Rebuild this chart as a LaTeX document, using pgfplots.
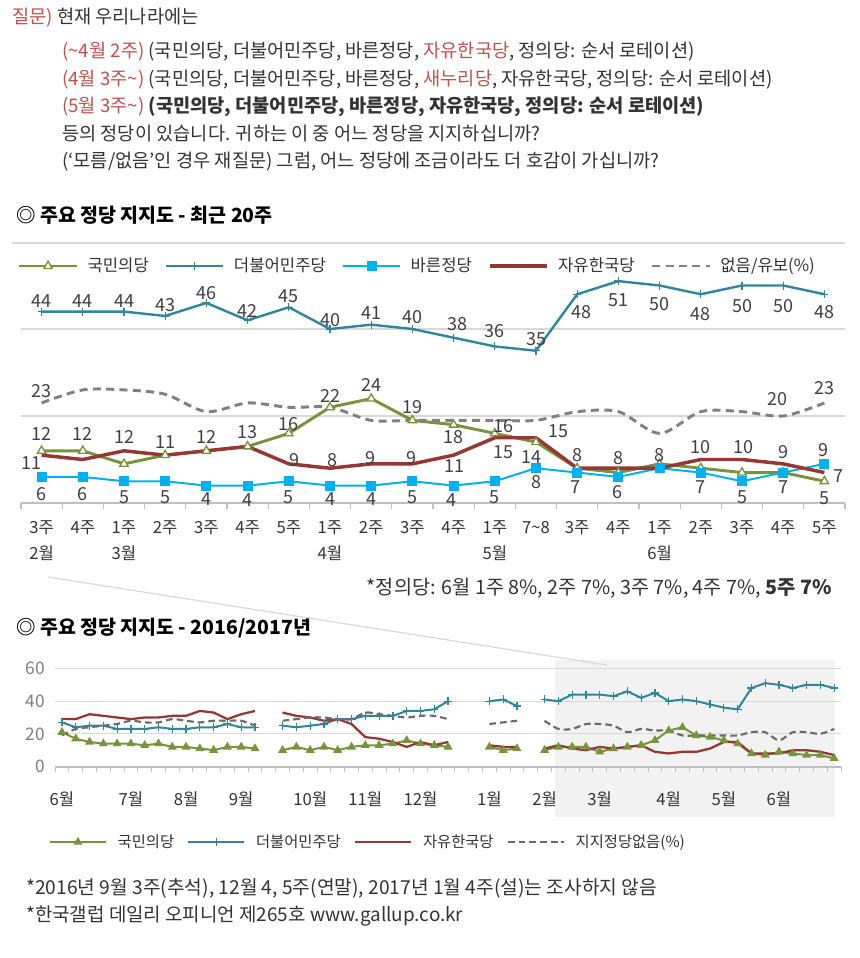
\documentclass[border=0pt]{standalone}
\usepackage{pgfplots}
\usepackage{pgfplotstable}
\pgfplotsset{compat=1.18}
\usepackage{fontspec}
\setmainfont{Noto Sans CJK KR}
\definecolor{cgreen}{HTML}{77933C}
\definecolor{cteal}{HTML}{31859C}
\definecolor{cblue}{HTML}{00B0F0}
\definecolor{cred}{HTML}{953735}
\definecolor{cgray}{HTML}{808080}
\definecolor{cgraydk}{HTML}{6A6A6A}
\definecolor{tred}{HTML}{C0504D}
\definecolor{tdark}{HTML}{333333}
\definecolor{labc}{HTML}{404040}
\definecolor{gridc}{HTML}{D9D9D9}
\definecolor{axisc}{HTML}{BFBFBF}
\definecolor{shadec}{HTML}{F2F2F2}
\definecolor{ticklab}{HTML}{7F7F7F}

\pgfplotstableread{
x green teal blue red gray
0 12 44 6 11 23
1 12 44 6 10 26
2 9 44 5 12 26
3 11 43 5 11 25
4 12 46 4 12 21
5 13 42 4 13 23
6 16 45 5 9 22
7 22 40 4 8 22
8 24 41 4 9 19
9 19 40 5 9 19
10 18 38 4 11 19
11 16 36 5 15 19
12 14 35 8 15 19
13 8 48 7 8 21
14 7 51 6 8 21
15 9 50 8 8 16
16 8 48 7 10 21
17 7 50 5 10 21
18 7 50 7 9 20
19 5 48 9 7 23
}\topdata

\pgfplotstableread{
x y lab
0 46.5 44
1 46.5 44
2 46.5 44
3 45.5 43
4 48.3 46
5 44.2 42
6 47.6 45
7 42.1 40
8 43.6 41
9 42.7 40
10.1 41.1 38
11 39.6 36
12 37.6 35
13.1 43.8 48
14 46.7 51
15 45.7 50
16 43.4 48
17 45.3 50
18 45.3 50
19 43.8 48
0 15.9 12
1 15.9 12
2 15.2 12
3 14.1 11
4 15.2 12
5 16.3 13
6 18.2 16
7 24.6 22
8 27.1 24
9 22.0 19
10 15.2 18
11.2 17.7 16
11.9 10.6 14
13 11.0 8
14 10.3 8
15 11.0 8
-0.24 9.1 11
6.15 9.9 9
7.07 9.9 8
7.99 10.3 9
8.99 10.3 9
10.03 8.6 11
11.2 11.6 15
12.55 16.4 15
16 12.8 10
17.03 12.8 10
18 11.8 9
19.34 6.3 7
0 2.0 6
1 2.0 6
2 1.3 5
3 1.3 5
4 0.9 4
5 0.7 4
6 1.3 5
7 0.9 4
8 0.9 4
9 1.3 5
9.95 0.7 4
11 1.3 5
12 4.9 8
12.95 3.6 7
13.97 2.6 6
16 3.6 7
17 1.4 5
18 3.6 7
18.97 12.2 9
19 1.1 5
0 25.8 23
17.87 23.8 20
19 26.4 23
}\labdata

\pgfplotstableread{
x green teal red gray
0 21 27 29 19
1 17 24 29 23
2 15 25 32 24
3 14 25 31 25
4 14 23 30 26
5 14 23 29 28
6 13 23 30 27
7 14 24 30 27
8 12 23 31 29
9 12 23 31 28
10 11 24 34 27
11 10 24 33 28
12 12 26 29 28
13 12 24 32 28
14 11 24 34 25
15 nan nan nan nan
16 10 25 33 28
17 12 24 31 29
18 10 25 30 30
19 12 26 28 30
20 10 29 29 29
21 12 29 26 29
22 13 31 18 33
23 13 31 17 32
24 14 31 15 31
25 16 34 12 30
26 14 34 15 31
27 13 35 13 31
28 12 40 15 29
29 nan nan nan nan
30 nan nan nan nan
31 12 40 13 26
32 10 41 12 27
33 11 37 12 28
34 nan nan nan nan
35 10 41 11 28
36 12 40 13 23
37 12 44 11 23
38 12 44 10 26
39 9 44 12 26
40 11 43 11 25
41 12 46 12 21
42 13 42 13 23
43 16 45 9 22
44 22 40 8 22
45 24 41 9 19
46 19 40 9 19
47 18 38 11 19
48 16 36 15 19
49 14 35 15 19
50 8 48 8 21
51 7 51 8 21
52 9 50 8 16
53 8 48 10 21
54 7 50 10 21
55 7 50 9 20
56 5 48 7 23
}\botdata

\begin{document}
\begin{tikzpicture}
\useasboundingbox (0pt,0pt) rectangle (645pt,-718.5pt);
\fill[white] (0pt,0pt) rectangle (645pt,-718.5pt);
\begin{scope}[x=0.75pt,y=-0.75pt]
\tikzset{txt/.style={anchor=west, inner sep=0pt, text=tdark, font=\fontsize{14}{16}\selectfont}}
\node[txt] at (12,18) {{\color{tred}질문)} 현재 우리나라에는};
\node[txt] at (62,52) {{\color{tred}(\textasciitilde4월 2주)} (국민의당, 더불어민주당, 바른정당, {\color{tred}자유한국당}, 정의당: 순서 로테이션)};
\node[txt] at (62,80) {{\color{tred}(4월 3주\textasciitilde)} (국민의당, 더불어민주당, 바른정당, {\color{tred}새누리당}, 자유한국당, 정의당: 순서 로테이션)};
\node[txt] at (62,107) {{\color{tred}(5월 3주\textasciitilde)} \textbf{(국민의당, 더불어민주당, 바른정당, 자유한국당, 정의당: 순서 로테이션)}};
\node[txt] at (62,134) {등의 정당이 있습니다. 귀하는 이 중 어느 정당을 지지하십니까?};
\node[txt] at (62,162) {(‘모름/없음’인 경우 재질문) 그럼, 어느 정당에 조금이라도 더 호감이 가십니까?};
\node[txt, text=black, font=\fontsize{14.6}{16}\selectfont\bfseries] at (16,215) {◎ 주요 정당 지지도 - 최근 20주};
\draw[gridc, line width=0.8pt] (12,243) -- (845,243);
\node[txt, anchor=east, font=\fontsize{14.8}{16}\selectfont] at (832,588) {*정의당: 6월 1주 8\%, 2주 7\%, 3주 7\%, 4주 7\%, \textbf{5주 7\%}};
\node[txt, text=black, font=\fontsize{14.6}{16}\selectfont\bfseries] at (16,628) {◎ 주요 정당 지지도 - 2016/2017년};
\fill[shadec] (555,660) rectangle (835,817);
\draw[gridc, line width=0.9pt] (48,577) -- (607,665);
\node[txt, font=\fontsize{14.4}{16}\selectfont] at (26,888) {*2016년 9월 3주(추석), 12월 4, 5주(연말), 2017년 1월 4주(설)는 조사하지 않음};
\node[txt, font=\fontsize{14.2}{16}\selectfont] at (26,916) {*한국갤럽 데일리 오피니언 제265호 www.gallup.co.kr};
\end{scope}

% ---------------- top chart
\begin{axis}[
  at={(15.75pt,-377.25pt)}, anchor=south west,
  scale only axis, width=618pt, height=195.75pt,
  xmin=-0.5, xmax=19.5, ymin=0, ymax=60,
  clip=false,
  axis lines*=left,
  y axis line style={draw=none},
  x axis line style={draw=axisc, line width=1.1pt},
  ytick={20,40}, yticklabels={}, ymajorgrids,
  grid style={draw=gridc, line width=0.8pt},
  major tick length=0pt, minor tick length=4.5pt,
  xtick align=outside,
  xtick={0,...,19},
  xticklabels={{3주\\2월},4주,{1주\\3월},2주,3주,4주,5주,{1주\\4월},2주,3주,4주,{1주\\5월},7\textasciitilde8,3주,4주,{1주\\6월},2주,3주,4주,5주},
  xticklabel style={align=center, anchor=north, text=tdark, font=\fontsize{12.5}{19.5}\selectfont, yshift=-10pt},
  minor xtick={-0.5,0.5,...,19.5},
  minor x tick style={draw=axisc, line width=0.8pt},
  legend columns=5,
  legend style={at={(-0.004,0.908)}, anchor=west, draw=none, fill=none, inner sep=0pt,
    font=\fontsize{12.5}{15}\selectfont, text=tdark,
    /tikz/every odd column/.append style={column sep=5pt},
    /tikz/every even column/.append style={column sep=10pt}},
  legend image code/.code={\draw[mark repeat=2,mark phase=2,#1] plot coordinates {(0pt,0pt) (21.5pt,0pt) (43pt,0pt)};},
]
\addplot[cgreen, line width=2.2pt, mark=triangle*, mark size=3.6pt, mark options={fill=white, draw=cgreen, line width=1pt, solid}] table[x=x,y=green]{\topdata};
\addlegendentry{국민의당}
\addplot[cteal, line width=1.8pt, mark=+, mark size=3pt, mark options={line width=1pt}] table[x=x,y=teal]{\topdata};
\addlegendentry{더불어민주당}
\addplot[cblue, line width=1.5pt, mark=square*, mark size=3pt] table[x=x,y=blue]{\topdata};
\addlegendentry{바른정당}
\addplot[cred, line width=2.6pt, mark=none] table[x=x,y=red]{\topdata};
\addlegendentry{자유한국당}
\addplot[cgray, line width=2.2pt, dash pattern=on 6pt off 4pt, smooth, mark=none] table[x=x,y=gray]{\topdata};
\addlegendentry{없음/유보(\%)}
\addplot[draw=none, mark=none, forget plot, nodes near coords, point meta=explicit symbolic,
  nodes near coords align={center},
  every node near coord/.append style={anchor=center, inner sep=0pt, text=labc, font=\fontsize{13.5}{15}\selectfont}]
  table[x=x,y=y,meta=lab]{\labdata};
\end{axis}

% ---------------- bottom chart
\begin{axis}[
  at={(41.3pt,-574.9pt)}, anchor=south west,
  scale only axis, width=589.5pt, height=73.6pt,
  xmin=-0.5, xmax=56.5, ymin=0, ymax=60,
  axis lines*=left,
  y axis line style={draw=none},
  x axis line style={draw=axisc, line width=1.5pt},
  ytick={0,20,40,60}, ymajorgrids,
  grid style={draw=gridc, line width=0.9pt},
  yticklabel style={text=ticklab, font=\fontsize{13}{15}\selectfont, xshift=-4pt},
  /pgf/number format/assume math mode=true,
  major tick length=0pt, minor tick length=3.75pt,
  xtick align=outside,
  xtick={0,5,9,13,18,22,26,31,35,39,44,48,52},
  xticklabels={6월,7월,8월,9월,10월,11월,12월,1월,2월,3월,4월,5월,6월},
  xticklabel style={anchor=north, text=tdark, font=\fontsize{12.5}{15}\selectfont, yshift=-15pt},
  minor xtick={-0.5,0.5,...,56.5},
  minor x tick style={draw=axisc, line width=0.75pt},
  unbounded coords=jump,
  legend columns=4,
  legend style={at={(-0.008,-0.77)}, anchor=west, draw=none, fill=none, inner sep=0pt,
    font=\fontsize{11.5}{14}\selectfont, text=tdark,
    /tikz/every odd column/.append style={column sep=6pt},
    /tikz/every even column/.append style={column sep=8pt}},
  legend image code/.code={\draw[mark repeat=2,mark phase=2,#1] plot coordinates {(0pt,0pt) (21pt,0pt) (42pt,0pt)};},
]
\addplot[cgreen, line width=1.5pt, mark=triangle*, mark size=2.4pt, mark options={fill=cgreen}] table[x=x,y=green]{\botdata};
\addlegendentry{국민의당}
\addplot[cteal, line width=1.5pt, mark=+, mark size=3pt, mark options={line width=0.9pt}] table[x=x,y=teal]{\botdata};
\addlegendentry{더불어민주당}
\addplot[cred, line width=1.7pt, mark=none] table[x=x,y=red]{\botdata};
\addlegendentry{자유한국당}
\addplot[cgraydk, line width=1.6pt, dash pattern=on 5pt off 3pt, smooth, mark=none] table[x=x,y=gray]{\botdata};
\addlegendentry{지지정당없음(\%)}
\end{axis}
\end{tikzpicture}
\end{document}
